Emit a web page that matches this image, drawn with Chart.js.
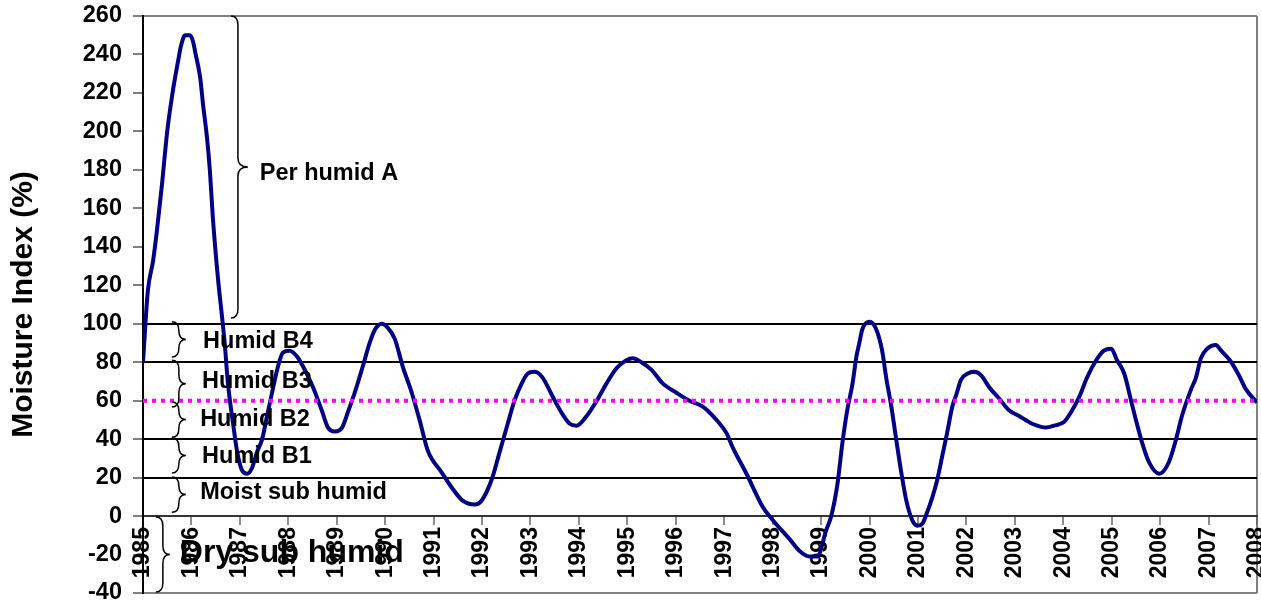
<!DOCTYPE html>
<html>
<head>
<meta charset="utf-8">
<script src="https://cdn.jsdelivr.net/npm/chart.js@4.4.1/dist/chart.umd.min.js"></script>
<style>
  html, body { margin: 0; padding: 0; background: #fff; }
  #wrap { width: 1261px; height: 606px; }
</style>
</head>
<body>
<div id="wrap"><canvas id="chart" width="1261" height="606"></canvas></div>
<script>
// moisture index (decimal year, %)
const years = [
  1985.00, 1985.10, 1985.21, 1985.29, 1985.39, 1985.50, 1985.61, 1985.72, 1985.79, 1985.87,
  1985.97, 1986.03, 1986.08, 1986.18, 1986.24, 1986.32, 1986.38, 1986.44, 1986.55,
  1986.63, 1986.69, 1986.75, 1986.86, 1986.94, 1987.04, 1987.15, 1987.25, 1987.35, 1987.46,
  1987.56, 1987.68, 1987.79, 1987.89, 1988.03, 1988.18, 1988.30, 1988.51, 1988.69, 1988.82,
  1988.96, 1989.11, 1989.23, 1989.37, 1989.54, 1989.68, 1989.79, 1989.93, 1990.05, 1990.20,
  1990.36, 1990.55, 1990.71, 1990.88, 1990.98, 1991.13, 1991.37, 1991.60, 1991.85, 1991.99,
  1992.20, 1992.36, 1992.53, 1992.67, 1992.82, 1992.94, 1993.09, 1993.25, 1993.46, 1993.66,
  1993.81, 1993.95, 1994.16, 1994.37, 1994.57, 1994.78, 1994.98, 1995.11, 1995.29, 1995.50,
  1995.73, 1996.02, 1996.28, 1996.55, 1996.84, 1997.05, 1997.17, 1997.46, 1997.79, 1998.00,
  1998.35, 1998.55, 1998.76, 1998.92, 1999.11, 1999.21, 1999.34, 1999.44, 1999.54, 1999.65,
  1999.73, 1999.79, 1999.85, 2000.00, 2000.14, 2000.26, 2000.35, 2000.45, 2000.55, 2000.66,
  2000.76, 2000.88, 2000.99, 2001.09, 2001.19, 2001.30, 2001.40, 2001.50, 2001.60, 2001.71,
  2001.79, 2001.89, 2002.02, 2002.16, 2002.31, 2002.47, 2002.68, 2002.88, 2003.09, 2003.36,
  2003.65, 2003.81, 2004.02, 2004.16, 2004.33, 2004.49, 2004.68, 2004.84, 2004.99, 2005.11,
  2005.26, 2005.40, 2005.50, 2005.63, 2005.77, 2005.98, 2006.18, 2006.33, 2006.45, 2006.64,
  2006.74, 2006.84, 2006.97, 2007.15, 2007.26, 2007.44, 2007.61, 2007.77, 2008.00
];
const moisture = [
  80, 117, 133, 149, 172, 200, 220, 236, 245, 250,
  250, 247, 241, 228, 214, 197, 180, 156, 123,
  104, 89, 70, 48, 34, 24, 22, 25, 33, 40,
  52, 66, 78, 85, 86, 83, 78, 67, 55, 46,
  44, 46, 54, 64, 78, 90, 97, 100, 98, 92,
  78, 64, 50, 34, 29, 24, 15, 8, 6, 8,
  19, 33, 48, 60, 69, 74, 75, 72, 62, 53,
  48, 47, 52, 60, 69, 77, 81, 82, 80, 76,
  69, 64, 60, 57, 50, 43, 36, 22, 5, -2,
  -12, -18, -21, -21, -7, 0, 17, 38, 55, 69,
  83, 90, 97, 101, 97, 86, 71, 57, 40, 22,
  8, -2, -5, -4, 2, 10, 19, 31, 43, 57,
  63, 71, 74, 75, 73, 67, 61, 55, 52, 48,
  46, 47, 49, 54, 62, 72, 81, 86, 87, 81,
  74, 60, 50, 38, 28, 22, 28, 40, 52, 66,
  72, 82, 87, 89, 86, 81, 74, 66, 59
];
const threshold = 60;
const yearTicks = [1985, 2008];
const valueTicks = [-40, 260, 20];

// climate classes and the braces beside them
const zoneNames = ['Per humid A', 'Humid B4', 'Humid B3', 'Humid B2', 'Humid B1', 'Moist sub humid', 'Dry sub humid'];
const braceTop = [260, 101, 81, 59.3, 40.6, 20.3, -0.5];
const braceBottom = [103, 82.7, 56.7, 41, 22.4, 2, -39.5];
const braceYear = [1986.96, 1985.74, 1985.74, 1985.74, 1985.74, 1985.74, 1985.41];
const labelYear = [1987.41, 1986.24, 1986.22, 1986.18, 1986.22, 1986.18, 1985.76];
const labelValue = [178, 90.5, 69.7, 50, 31.2, 12, -19.2];

const FONT = "'Liberation Sans', Arial, sans-serif";

function drawBrace(ctx, x, top, bottom, hook, tip) {
  const mid = (top + bottom) / 2;
  const r = Math.min(9, (bottom - top) / 4);
  ctx.beginPath();
  ctx.moveTo(x - hook, top);
  ctx.quadraticCurveTo(x, top, x, top + r);
  ctx.lineTo(x, mid - r);
  ctx.quadraticCurveTo(x, mid, x + tip, mid);
  ctx.quadraticCurveTo(x, mid, x, mid + r);
  ctx.lineTo(x, bottom - r);
  ctx.quadraticCurveTo(x, bottom, x - hook, bottom);
  ctx.stroke();
}

const zonePlugin = {
  id: 'zones',
  afterDraw(chart) {
    const { ctx, scales: { x, y } } = chart;
    ctx.save();
    ctx.strokeStyle = '#000';
    ctx.lineWidth = 1.5;
    ctx.fillStyle = '#000';
    ctx.textBaseline = 'middle';
    ctx.textAlign = 'left';
    zoneNames.forEach((name, i) => {
      const bx = x.getPixelForValue(braceYear[i]);
      const tip = i === 0 ? 10 : 7;
      drawBrace(ctx, bx, y.getPixelForValue(braceTop[i]), y.getPixelForValue(braceBottom[i]), 7, tip);
      const size = name === 'Dry sub humid' ? 32 : 23.5;
      ctx.font = 'bold ' + size + 'px ' + FONT;
      ctx.fillText(name, x.getPixelForValue(labelYear[i]), y.getPixelForValue(labelValue[i]));
    });
    ctx.restore();
  }
};

const bandLines = [20, 40, 80, 100];

new Chart(document.getElementById('chart'), {
  type: 'line',
  data: {
    datasets: [
      {
        data: yearTicks.map(v => ({ x: v, y: threshold })),
        borderColor: '#FF00FF',
        borderWidth: 4,
        borderDash: [4, 5],
        pointRadius: 0
      },
      {
        data: years.map((v, i) => ({ x: v, y: moisture[i] })),
        borderColor: '#000080',
        borderWidth: 4,
        pointRadius: 0,
        cubicInterpolationMode: 'monotone'
      }
    ]
  },
  options: {
    responsive: false,
    animation: false,
    layout: { padding: { top: 16, bottom: 13, right: 4, left: 0 } },
    plugins: { legend: { display: false }, tooltip: { enabled: false } },
    scales: {
      x: {
        type: 'linear',
        position: { y: 0 },
        min: yearTicks[0],
        max: yearTicks[1],
        afterFit: s => { s.height = 0; s.paddingLeft = 0; s.paddingRight = 0; },
        border: { color: '#333', width: 2 },
        grid: {
          drawOnChartArea: true,
          color: c => (c.tick && c.tick.value === yearTicks[1] ? '#808080' : 'rgba(0,0,0,0)'),
          lineWidth: 2,
          tickColor: '#666',
          tickLength: 8,
          tickWidth: 1.5
        },
        ticks: {
          stepSize: 1,
          autoSkip: false,
          minRotation: 90,
          maxRotation: 90,
          padding: 3,
          color: '#000',
          font: { family: FONT, size: 23, weight: 'bold' },
          callback: v => String(v)
        }
      },
      y: {
        min: valueTicks[0],
        max: valueTicks[1],
        afterFit: s => { s.width = 143; s.paddingTop = 0; s.paddingBottom = 0; },
        border: { color: '#000', width: 2 },
        grid: {
          color: c => {
            const v = c.tick && c.tick.value;
            if (bandLines.includes(v)) return '#000';
            if (v === valueTicks[0] || v === valueTicks[1]) return '#808080';
            return 'rgba(0,0,0,0)';
          },
          lineWidth: 2,
          tickColor: '#555',
          tickLength: 10,
          tickWidth: 1.5
        },
        ticks: {
          stepSize: valueTicks[2],
          padding: 11,
          color: '#000',
          font: { family: FONT, size: 23.5, weight: 'bold' }
        },
        title: {
          display: true,
          text: 'Moisture Index (%)',
          color: '#000',
          padding: { top: 6, bottom: 0 },
          font: { family: FONT, size: 30, weight: 'bold' }
        }
      }
    }
  },
  plugins: [zonePlugin]
});
</script>
</body>
</html>
